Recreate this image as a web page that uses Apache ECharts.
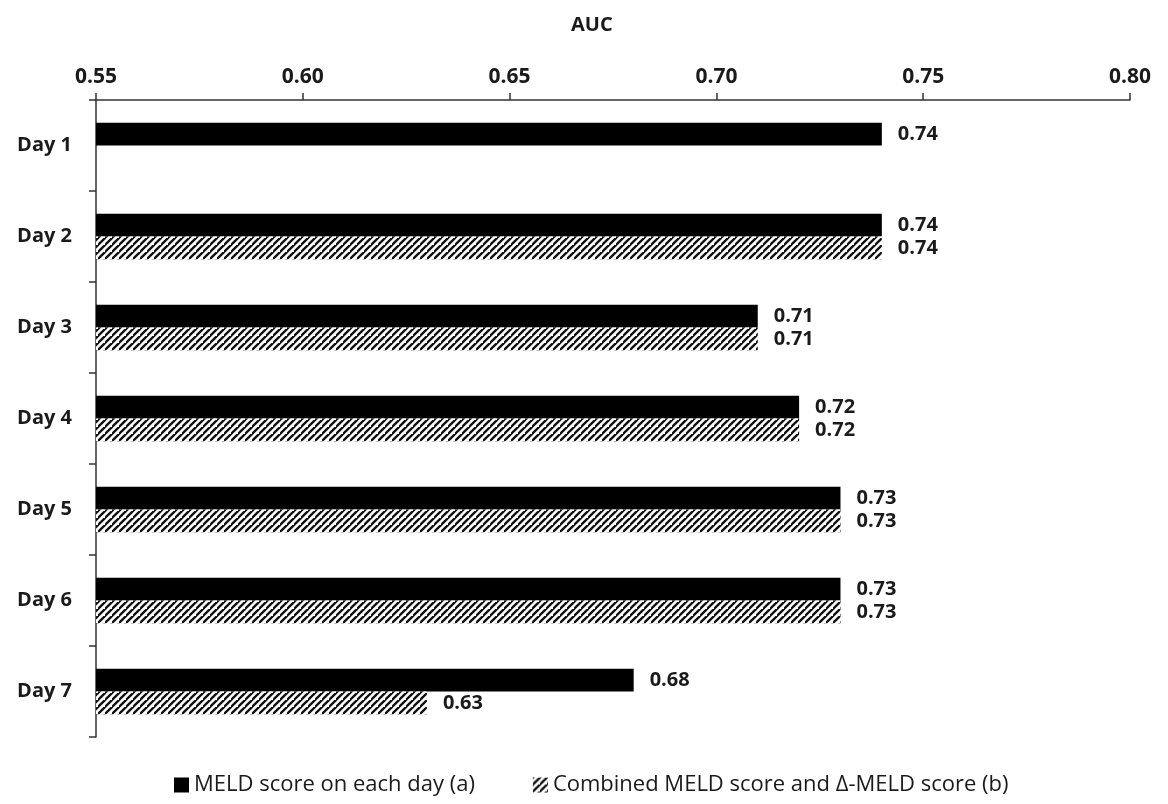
<!DOCTYPE html>
<html>
<head>
<meta charset="utf-8">
<script src="https://cdn.jsdelivr.net/npm/echarts@6/dist/echarts.min.js"></script>
<style>
  html, body { margin: 0; padding: 0; background: #ffffff; }
  #chart { width: 1168px; height: 804px; }
</style>
</head>
<body>
<div id="chart"></div>
<script>
const categories = ['Day 1', 'Day 2', 'Day 3', 'Day 4', 'Day 5', 'Day 6', 'Day 7'];
const seriesNames = ['MELD score on each day (a)', 'Combined MELD score and \u0394-MELD score (b)'];
const meldValues = [0.74, 0.74, 0.71, 0.72, 0.73, 0.73, 0.68];
const combinedValues = [null, 0.74, 0.71, 0.72, 0.73, 0.73, 0.63];
const xTicks = { min: 0.55, max: 0.80, interval: 0.05 };

const FONT = '"Open Sans", "Noto Sans", sans-serif';

function makeHatch() {
  const s = 7;
  const c = document.createElement('canvas');
  c.width = s; c.height = s;
  const g = c.getContext('2d');
  g.fillStyle = '#ffffff';
  g.fillRect(0, 0, s, s);
  g.strokeStyle = '#111111';
  g.lineWidth = 2.3;
  g.lineCap = 'square';
  g.beginPath();
  g.moveTo(-1, s + 1); g.lineTo(s + 1, -1);
  g.moveTo(-s - 1, s + 1); g.lineTo(1, -1);
  g.moveTo(s - 1, 2 * s + 1); g.lineTo(2 * s + 1, s - 1);
  g.stroke();
  return c;
}
const hatch = { image: makeHatch(), repeat: 'repeat' };

const chart = echarts.init(document.getElementById('chart'), null, { renderer: 'canvas' });

const labelCfg = {
  show: true,
  position: 'right',
  distance: 16,
  color: '#1a1a1a',
  fontFamily: FONT,
  fontWeight: 'bold',
  fontSize: 20,
  formatter: p => (p.value == null ? '' : Number(p.value).toFixed(2))
};

chart.setOption({
  animation: false,
  backgroundColor: '#ffffff',
  title: {
    text: 'AUC',
    left: 566,
    top: 10,
    textStyle: { fontFamily: FONT, fontWeight: 'bold', fontSize: 20, color: '#1a1a1a' }
  },
  grid: { left: 96, right: 38, top: 100, bottom: 67, containLabel: false },
  legend: {
    bottom: 3,
    left: 169,
    itemWidth: 15,
    itemHeight: 15,
    itemGap: 58,
    icon: 'rect',
    data: seriesNames,
    textStyle: { fontFamily: FONT, fontSize: 22, color: '#1a1a1a' }
  },
  xAxis: {
    type: 'value',
    position: 'top',
    min: xTicks.min,
    max: xTicks.max,
    interval: xTicks.interval,
    axisLine: { show: true, lineStyle: { color: '#333333', width: 1.5 } },
    axisTick: { show: true, length: 7, lineStyle: { color: '#333333', width: 1.5 } },
    splitLine: { show: false },
    axisLabel: {
      margin: 12,
      color: '#1a1a1a',
      fontFamily: FONT,
      fontWeight: 'bold',
      fontSize: 21,
      formatter: v => v.toFixed(2)
    }
  },
  yAxis: {
    type: 'category',
    inverse: true,
    data: categories,
    axisLine: { show: true, lineStyle: { color: '#333333', width: 1.5 } },
    axisTick: { show: true, length: 7, lineStyle: { color: '#333333', width: 1.5 } },
    axisLabel: {
      margin: 24,
      color: '#1a1a1a',
      fontFamily: FONT,
      fontWeight: 'bold',
      fontSize: 20
    }
  },
  series: [
    {
      name: seriesNames[0],
      type: 'bar',
      data: meldValues,
      barGap: '0%',
      barCategoryGap: '50%',
      itemStyle: { color: '#000000' },
      label: labelCfg
    },
    {
      name: seriesNames[1],
      type: 'bar',
      data: combinedValues,
      barGap: '0%',
      barCategoryGap: '50%',
      itemStyle: { color: hatch },
      label: labelCfg
    }
  ]
});
</script>
</body>
</html>
